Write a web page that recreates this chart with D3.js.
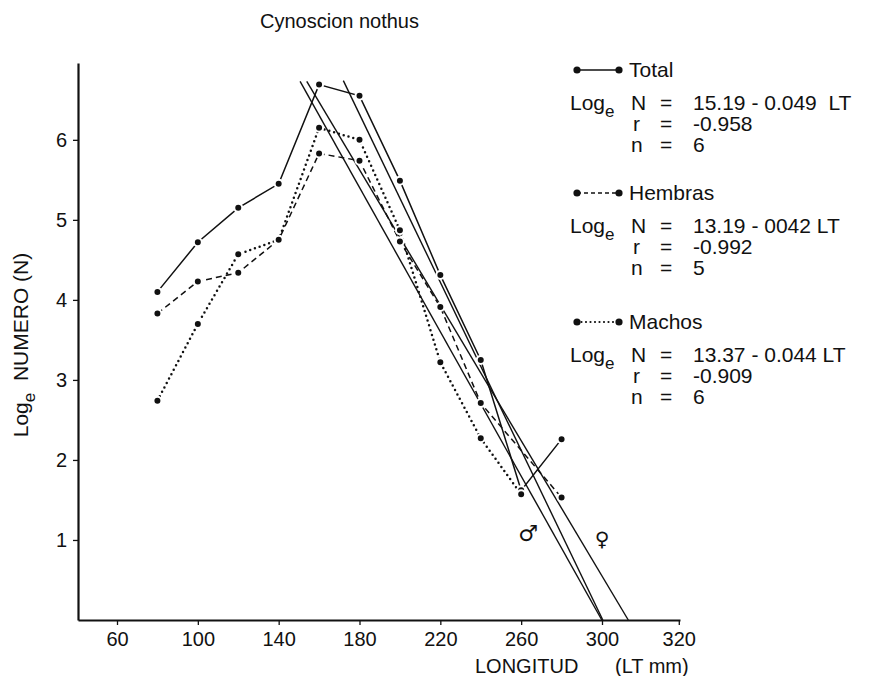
<!DOCTYPE html>
<html>
<head>
<meta charset="utf-8">
<script src="https://cdn.jsdelivr.net/npm/d3@7"></script>
<style>
  body { margin:0; background:#fff; }
  svg text { font-family: "Liberation Sans", Arial, Helvetica, sans-serif; fill:#111; }
</style>
</head>
<body>
<svg id="chart" width="870" height="676"></svg>
<script>
// length classes (LT mm)
const lengths  = [80,100,120,140,160,180,200,220,240,260,280];
// Log_e N, null = no point in that class
const totalN   = [4.10,4.72,5.15,5.45,6.69,6.55,5.49,4.31,3.25,1.62,2.26];
const hembrasN = [3.83,4.23,4.34,4.75,5.83,5.74,4.73,3.91,2.71,null,1.53];
const machosN  = [2.74,3.70,4.57,4.75,6.15,6.00,4.87,3.22,2.27,1.57,null];

// fitted lines as drawn: [LT, logN] at the top and where they meet the axis
const totalFit   = [[172.0,6.74],[300.4,0]];
const hembrasFit = [[153.9,6.73],[313.0,0]];
const machosFit  = [[150.6,6.73],[299.9,0]];

// last tick sits where 340 would be but is printed "320" in the figure
const xTicks      = [60,100,140,180,220,260,300,338];
const xTickLabels = ['60','100','140','180','220','260','300','320'];
const yTicks      = [1,2,3,4,5,6];

const seriesNames = ['Total','Hembras','Machos'];
const eqText = ['15.19 - 0.049  LT','13.19 - 0042 LT','13.37 - 0.044 LT'];
const rText  = ['-0.958','-0.992','-0.909'];
const nText  = ['6','5','6'];

// ---------- layout ----------
const svg = d3.select('#chart');
const x = d3.scaleLinear().domain([40.7,338.6]).range([78,680]);
const y = d3.scaleLinear().domain([0,6.96]).range([620,63]);

const STYLE = {
  Total:   { dash: null,  width: 1.5, cap: 'butt' },
  Hembras: { dash: '6,4', width: 1.5, cap: 'butt' },
  Machos:  { dash: '0,5', width: 2.5, cap: 'round' }
};

// ---------- axes ----------
const xAxis = svg.append('g')
  .attr('transform','translate(0,620)')
  .call(d3.axisBottom(x).tickValues(xTicks)
    .tickFormat((d,i)=>xTickLabels[i]).tickSize(5).tickSizeOuter(0).tickPadding(7));
const yAxis = svg.append('g')
  .attr('transform','translate(78,0)')
  .call(d3.axisLeft(y).tickValues(yTicks).tickFormat(d3.format('d'))
    .tickSize(5).tickSizeOuter(0).tickPadding(6));

[xAxis,yAxis].forEach(a=>{
  a.select('.domain').attr('stroke','#111').attr('stroke-width',2.2);
  a.selectAll('.tick line').attr('stroke','#111').attr('stroke-width',1.3);
  a.selectAll('.tick text').style('font-size','20px').attr('fill','#111');
});

// ---------- regression lines ----------
const line = d3.line().x(d=>x(d[0])).y(d=>y(d[1]));
[totalFit,hembrasFit,machosFit].forEach(f=>{
  svg.append('path').attr('d',line(f))
    .attr('fill','none').attr('stroke','#111').attr('stroke-width',1.4);
});

// ---------- data series ----------
const series = [
  {name:'Total',   vals: totalN},
  {name:'Hembras', vals: hembrasN},
  {name:'Machos',  vals: machosN}
];
series.forEach(s=>{
  const pts = lengths.map((l,i)=>[l,s.vals[i]]).filter(d=>d[1]!=null);
  const st = STYLE[s.name];
  svg.append('path').attr('d',line(pts))
    .attr('fill','none').attr('stroke','#111')
    .attr('stroke-width',st.width)
    .attr('stroke-dasharray',st.dash)
    .attr('stroke-linecap',st.cap);
});
series.forEach(s=>{
  const pts = lengths.map((l,i)=>[l,s.vals[i]]).filter(d=>d[1]!=null);
  svg.append('g').selectAll('circle').data(pts).enter().append('circle')
    .attr('cx',d=>x(d[0])).attr('cy',d=>y(d[1])).attr('r',4)
    .attr('fill','#111').attr('stroke','#fff').attr('stroke-width',2);
});

// sex symbols next to the fitted lines
svg.append('text').attr('x',528).attr('y',541).attr('text-anchor','middle')
  .style('font-family','"DejaVu Sans", sans-serif')
  .style('font-size','22px').style('font-weight','bold').text('♂');
svg.append('text').attr('x',602).attr('y',546).attr('text-anchor','middle')
  .style('font-family','"DejaVu Sans", sans-serif')
  .style('font-size','20px').style('font-weight','bold').text('♀');

// ---------- legend ----------
const legendTop = [70,193,322];
seriesNames.forEach((name,i)=>{
  const g = svg.append('g').attr('transform',`translate(0,${legendTop[i]})`);
  const st = STYLE[name];
  g.append('line').attr('x1',577).attr('x2',619).attr('y1',0).attr('y2',0)
    .attr('stroke','#111').attr('stroke-width',name==='Machos' ? 2.2 : 1.4)
    .attr('stroke-dasharray', name==='Hembras' ? '4,3' : (name==='Machos' ? '0,4.5' : null))
    .attr('stroke-linecap',st.cap);
  [577,619].forEach(cx=>g.append('circle').attr('cx',cx).attr('cy',0).attr('r',3.6).attr('fill','#111'));
  g.append('text').attr('x',629).attr('y',7).attr('font-size',21).text(name);

  const eq = g.append('text').attr('x',570).attr('y',40).attr('font-size',21);
  eq.append('tspan').text('Log');
  eq.append('tspan').attr('dy',7).attr('font-size',17).text('e');
  g.append('text').attr('x',631).attr('y',40).attr('font-size',21).text('N');
  g.append('text').attr('x',633).attr('y',61).attr('font-size',21).text('r');
  g.append('text').attr('x',631).attr('y',82).attr('font-size',21).text('n');
  [40,61,82].forEach(yy=>g.append('text').attr('x',660).attr('y',yy).attr('font-size',21).text('='));
  g.append('text').attr('x',693).attr('y',40).attr('font-size',21)
    .style('white-space','pre').text(eqText[i]);
  g.append('text').attr('x',693).attr('y',61).attr('font-size',21).text(rText[i]);
  g.append('text').attr('x',693).attr('y',82).attr('font-size',21).text(nText[i]);
});

// ---------- titles ----------
svg.append('text').attr('x',260).attr('y',28).attr('font-size',20).text('Cynoscion nothus');

const yl = svg.append('text').attr('transform','translate(28,345) rotate(-90)')
  .attr('text-anchor','middle').attr('font-size',21);
yl.append('tspan').text('Log');
yl.append('tspan').attr('dy',7).attr('font-size',17).text('e');
yl.append('tspan').attr('dy',-7).style('white-space','pre').text('  NUMERO (N)');

svg.append('text').attr('x',475).attr('y',673).attr('font-size',20).text('LONGITUD');
svg.append('text').attr('x',615).attr('y',673).attr('font-size',20).text('(LT mm)');
</script>
</body>
</html>
